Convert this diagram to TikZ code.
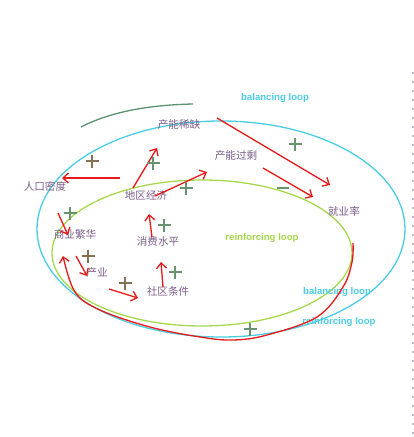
\documentclass[tikz,border=0pt]{standalone}
\usepackage{fontspec}
\setmainfont{Liberation Sans}
\newfontfamily\cjk{Noto Sans CJK SC}
\usetikzlibrary{arrows.meta}

\definecolor{lblpurple}{RGB}{122,94,140}
\definecolor{loopcyan}{RGB}{74,204,228}
\definecolor{loopgreen}{RGB}{166,216,76}
\definecolor{linkred}{RGB}{230,24,24}
\definecolor{signgreen}{RGB}{104,146,112}
\definecolor{signbrown}{RGB}{132,112,84}
\definecolor{arcgreen}{RGB}{92,146,112}
\definecolor{edgegray}{RGB}{196,186,204}

\begin{document}
\begin{tikzpicture}[x=1pt,y=-1pt,
    lbl/.style={text=lblpurple,font=\cjk\fontsize{10.6}{12}\selectfont,inner sep=0pt},
    looplbl/.style={font=\fontsize{9.6}{11}\selectfont\bfseries,inner sep=0pt},
    link/.style={linkred,line width=1.3pt,-{Straight Barb[length=5.5pt,width=10pt]}},
    sign/.style={line width=1.4pt}]
    \useasboundingbox (0,0) rectangle (414,437);

    % loops
    \draw[loopcyan,line width=1.3pt] (221,229) ellipse [x radius=184,y radius=108];
    \draw[loopgreen,line width=1.3pt] (202,253) ellipse [x radius=150,y radius=73];
    \draw[arcgreen,line width=1.3pt] (81,127) .. controls (108,113) and (145,105) .. (193,104);
    \draw[edgegray,line width=1.5pt,dash pattern=on 2pt off 7pt] (413,72) -- (413,437);

    % variables
    \node [lbl] (cnxq) at (179,124) {产能稀缺};
    \node [lbl] (cngs) at (236,155) {产能过剩};
    \node [lbl] (rkmd) at (45,186) {人口密度};
    \node [lbl] (dqjj) at (146,195) {地区经济};
    \node [lbl] (jyl) at (344,211) {就业率};
    \node [lbl] (syfh) at (75,234) {商业繁华};
    \node [lbl] (xfsp) at (158,241) {消费水平};
    \node [lbl] (cy) at (97,272) {产业};
    \node [lbl] (sqtj) at (168,291) {社区条件};

    \node [looplbl,loopcyan] (bl1) at (275,98) {balancing loop};
    \node [looplbl,loopgreen] (rl1) at (262,238) {reinforcing loop};
    \node [looplbl,loopcyan] (bl2) at (337,292) {balancing loop};
    \node [looplbl,loopcyan] (rl2) at (339,322) {reinforcing loop};

    % arrow ends
    \coordinate (a1) at (120,178); \coordinate (b1) at (62,178);
    \coordinate (a2) at (133,188); \coordinate (b2) at (157,148);
    \coordinate (a3) at (155,196); \coordinate (b3) at (207,172);
    \coordinate (a4) at (217,118); \coordinate (b4) at (330,185);
    \coordinate (a5) at (263,168); \coordinate (b5) at (313,197);
    \coordinate (a6) at (58,213);  \coordinate (b6) at (68,235);
    \coordinate (a7) at (76,256);  \coordinate (b7) at (87,276);
    \coordinate (a8) at (109,289); \coordinate (b8) at (138,298);
    \coordinate (a9) at (163,287); \coordinate (b9) at (161,262);
    \coordinate (a10) at (152,237); \coordinate (b10) at (149,214);

    \draw[link] (a1) -- (b1);
    \draw[link] (a2) -- (b2);
    \draw[link] (a3) -- (b3);
    \draw[link] (a4) -- (b4);
    \draw[link] (a5) -- (b5);
    \draw[link] (a6) -- (b6);
    \draw[link] (a7) -- (b7);
    \draw[link] (a8) -- (b8);
    \draw[link] (a9) -- (b9);
    \draw[link] (a10) -- (b10);
    \draw[link] plot[smooth,tension=0.6] coordinates {(353,243) (352,262) (343,287) (317,317) (267,335) (233,340) (200,337) (150,327) (100,310) (75,292) (63,256)};

    % polarities
    \foreach \x/\y/\c in {92/161/signbrown, 153/163/signgreen, 186/188/signgreen,
        295/144/signgreen, 70/213/signgreen, 164/225/signgreen, 88/256/signbrown,
        125/283/signbrown, 175/272/signgreen, 250/329/signgreen}
        \draw[sign,\c] (\x-6.5,\y) -- (\x+6.5,\y) (\x,\y-6.5) -- (\x,\y+6.5);
    \draw[sign,signgreen] (277,188) -- (289,188);
\end{tikzpicture}
\end{document}
